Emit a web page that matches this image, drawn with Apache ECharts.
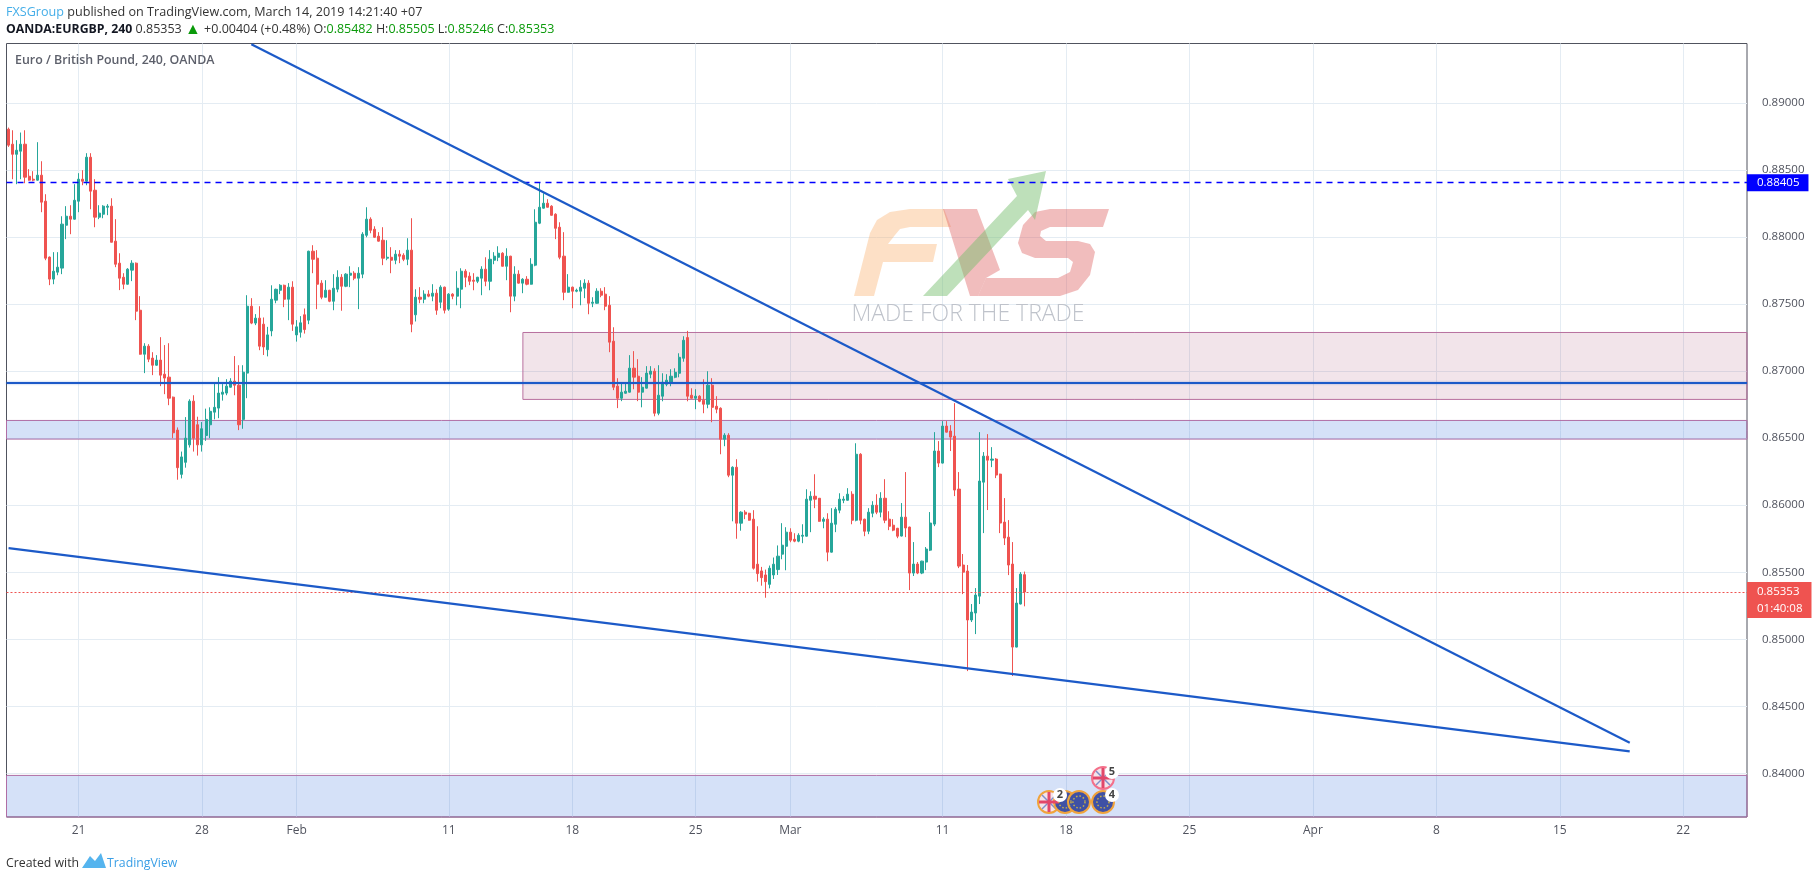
<!DOCTYPE html>
<html><head><meta charset="utf-8">
<style>html,body{margin:0;padding:0;background:#fff}#c{width:1812px;height:881px}</style>
<script src="https://cdn.jsdelivr.net/npm/echarts@6/dist/echarts.min.js"></script>
</head><body><div id="c"></div>
<script>
const opens=[.88804,.88692,.88617,.88640,.88692,.88453,.88431,.88424,.88461,.88267,
.87850,.87686,.87738,.87768,.88088,.88155,.88133,.88267,.88431,.88416,
.88595,.88349,.88148,.88170,.88222,.88230,.87969,.87805,.87700,.87648,
.87753,.87805,.87454,.87126,.87186,.87097,.87044,.87082,.86977,.86955,
.86806,.86560,.86230,.86320,.86450,.86776,.86600,.86450,.86520,.86600,
.86694,.86724,.86828,.86836,.86880,.86925,.86895,.86640,.86985,.87484,
.87358,.87395,.87350,.87160,.87300,.87529,.87603,.87640,.87536,.87626,
.87270,.87290,.87420,.87380,.87894,.87842,.87656,.87551,.87603,.87521,
.87611,.87700,.87633,.87715,.87730,.87693,.87723,.88013,.88133,.88058,
.88006,.87976,.87842,.87849,.87827,.87872,.87864,.87834,.87902,.87420,
.87551,.87536,.87574,.87559,.87581,.87514,.87626,.87462,.87574,.87559,
.87611,.87745,.87708,.87678,.87670,.87693,.87760,.87670,.87827,.87849,
.87879,.87782,.87857,.87559,.87723,.87656,.87685,.87648,.87790,.88103,
.88215,.88252,.88230,.88170,.88073,.87857,.87588,.87626,.87596,.87596,
.87618,.87656,.87506,.87506,.87596,.87574,.87491,.87223,.86888,.86798,
.86835,.86843,.87022,.86962,.86843,.86873,.86977,.86999,.86686,.86813,
.86902,.86917,.86954,.86984,.87096,.87250,.86820,.86798,.86813,.86783,
.86753,.86895,.86738,.86723,.86492,.86522,.86224,.86283,.85866,.85948,
.85940,.85896,.85560,.85510,.85480,.85410,.85480,.85520,.85635,.85694,
.85799,.85746,.85732,.85769,.85769,.86037,.86067,.86052,.85880,.85896,
.85650,.85858,.85963,.86037,.86037,.86082,.85888,.86380,.85896,.85806,
.85940,.86000,.85948,.86052,.85896,.85851,.85828,.85770,.85911,.85837,
.85494,.85561,.85494,.85576,.85665,.85859,.86404,.86314,.86590,.86553,
.86515,.86120,.85554,.85509,.85144,.85196,.85322,.86172,.86366,.86336,
.86344,.86232,.85874,.85762,.85561,.84942,.85263,.85482];
const closes=[.88685,.88617,.88647,.88692,.88446,.88424,.88424,.88461,.88260,.87842,
.87686,.87745,.87775,.88096,.88155,.88133,.88274,.88431,.88416,.88595,
.88342,.88148,.88178,.88230,.88230,.87961,.87797,.87693,.87648,.87760,
.87805,.87447,.87126,.87186,.87089,.87044,.87082,.86970,.86948,.86798,
.86540,.86280,.86360,.86500,.86776,.86500,.86450,.86570,.86640,.86700,
.86730,.86836,.86843,.86888,.86925,.86895,.86600,.86992,.87484,.87358,
.87395,.87186,.87180,.87270,.87536,.87610,.87640,.87536,.87626,.87350,
.87330,.87360,.87310,.87894,.87834,.87648,.87551,.87603,.87521,.87618,
.87700,.87633,.87723,.87730,.87693,.87730,.88021,.88133,.88050,.87998,
.87969,.87842,.87849,.87827,.87872,.87857,.87834,.87902,.87350,.87551,
.87536,.87574,.87559,.87581,.87454,.87626,.87454,.87574,.87559,.87618,
.87745,.87700,.87670,.87670,.87700,.87760,.87670,.87834,.87857,.87879,
.87782,.87857,.87559,.87723,.87656,.87685,.87648,.87797,.88110,.88222,
.88252,.88222,.88162,.88065,.87849,.87588,.87626,.87596,.87603,.87626,
.87656,.87506,.87514,.87596,.87566,.87484,.87216,.86880,.86798,.86843,
.86850,.87022,.86955,.86843,.86880,.86985,.87000,.86686,.86820,.86917,
.86932,.86962,.86991,.87103,.87230,.86813,.86798,.86813,.86775,.86753,
.86895,.86730,.86716,.86492,.86522,.86224,.86283,.85866,.85948,.85933,
.85888,.85530,.85490,.85460,.85430,.85530,.85560,.85620,.85702,.85799,
.85739,.85732,.85776,.85776,.86045,.86067,.86045,.85880,.85896,.85650,
.85866,.85970,.86045,.86045,.86082,.85888,.86380,.85888,.85806,.85948,
.86000,.85948,.86052,.85888,.85843,.85814,.85769,.85911,.85830,.85494,
.85561,.85494,.85583,.85673,.85867,.86404,.86314,.86590,.86545,.86508,
.86113,.85546,.85501,.85144,.85203,.85330,.86180,.86366,.86336,.86344,
.86225,.85867,.85755,.85554,.84942,.85270,.85486,.85353];
const lows=[.88672,.88431,.88394,.88431,.88401,.88420,.88416,.88420,.88185,.87827,
.87641,.87648,.87715,.87723,.87984,.88021,.88130,.88185,.88386,.88386,
.88207,.88073,.88133,.88140,.88163,.87960,.87775,.87604,.87611,.87645,
.87671,.87380,.87123,.86985,.87067,.86970,.87040,.86888,.86828,.86746,
.86500,.86190,.86200,.86280,.86430,.86400,.86370,.86400,.86480,.86500,
.86640,.86649,.86780,.86820,.86877,.86820,.86560,.86570,.86798,.87350,
.87343,.87156,.87120,.87110,.87260,.87506,.87574,.87477,.87380,.87300,
.87220,.87250,.87280,.87350,.87730,.87462,.87536,.87550,.87514,.87454,
.87588,.87450,.87626,.87626,.87678,.87462,.87693,.87998,.88028,.87995,
.87966,.87790,.87827,.87730,.87797,.87805,.87820,.87790,.87290,.87370,
.87506,.87506,.87551,.87521,.87420,.87469,.87430,.87450,.87536,.87491,
.87469,.87626,.87641,.87603,.87656,.87566,.87633,.87603,.87797,.87820,
.87780,.87678,.87439,.87521,.87653,.87581,.87640,.87645,.87782,.88096,
.88212,.88220,.88160,.87984,.87834,.87529,.87585,.87469,.87588,.87491,
.87544,.87424,.87477,.87503,.87551,.87454,.87141,.86858,.86724,.86776,
.86832,.86840,.86865,.86776,.86730,.86870,.86947,.86663,.86671,.86775,
.86887,.86887,.86947,.86954,.87070,.86775,.86795,.86716,.86768,.86686,
.86723,.86619,.86686,.86380,.86440,.86209,.85880,.85750,.85810,.85896,
.85885,.85520,.85430,.85400,.85310,.85380,.85450,.85480,.85597,.85515,
.85724,.85724,.85724,.85717,.85766,.85799,.85978,.85877,.85828,.85582,
.85647,.85799,.85940,.86015,.86034,.85858,.85880,.85858,.85769,.85784,
.85910,.85933,.85910,.85866,.85814,.85806,.85754,.85767,.85762,.85367,
.85472,.85486,.85486,.85516,.85658,.85844,.86284,.86311,.86542,.86404,
.86068,.85531,.85337,.84763,.85129,.85039,.85263,.85792,.85964,.86284,
.86202,.85792,.85703,.85479,.84726,.84940,.85260,.85246];
const highs=[.88816,.88796,.88722,.88779,.88796,.88506,.88491,.88707,.88565,.88319,
.87855,.87887,.87887,.88155,.88230,.88237,.88394,.88476,.88498,.88625,
.88625,.88431,.88237,.88237,.88245,.88289,.88133,.87879,.87730,.87768,
.87827,.87810,.87559,.87208,.87201,.87141,.87119,.87253,.87194,.87208,
.86810,.86580,.86400,.86657,.86790,.86820,.86660,.86620,.86720,.86730,
.86910,.86955,.86903,.86940,.86947,.87112,.87044,.87044,.87566,.87544,
.87425,.87484,.87400,.87330,.87640,.87615,.87648,.87645,.87656,.87670,
.87380,.87410,.87467,.87898,.87939,.87902,.87678,.87678,.87606,.87723,
.87752,.87723,.87730,.87782,.87745,.87775,.88036,.88222,.88147,.88080,
.88036,.88073,.87976,.87924,.87902,.87902,.87879,.87991,.88140,.87610,
.87626,.87603,.87603,.87648,.87610,.87640,.87630,.87581,.87581,.87745,
.87767,.87760,.87737,.87730,.87703,.87782,.87849,.87902,.87887,.87931,
.87887,.87916,.87860,.87782,.87752,.87693,.87708,.87842,.88207,.88408,
.88326,.88282,.88237,.88177,.88110,.88036,.87723,.87630,.87615,.87678,
.87685,.87678,.87551,.87618,.87618,.87626,.87559,.87327,.86947,.86910,
.86910,.87119,.87149,.87089,.86955,.87037,.87037,.87021,.87044,.86984,
.86977,.87014,.87021,.87133,.87260,.87300,.86872,.86865,.86820,.86939,
.86999,.86947,.86813,.86730,.86537,.86537,.86290,.86343,.85955,.85963,
.85943,.85963,.85843,.85540,.85520,.85550,.85610,.85700,.85866,.85836,
.85828,.85791,.85791,.85858,.86119,.86104,.86231,.86050,.85910,.85940,
.85978,.85985,.86089,.86067,.86127,.86104,.86462,.86388,.85899,.85978,
.86030,.86082,.86097,.86194,.85955,.85896,.85831,.86016,.86247,.85840,
.85725,.85576,.85586,.85688,.85949,.86545,.86478,.86627,.86627,.86597,
.86761,.86247,.85636,.85554,.85263,.85382,.86545,.86396,.86530,.86433,
.86351,.86235,.86053,.85889,.85725,.85382,.85501,.85505];
const xTickIndex=[17,47,70,107,137,167,190,227,257,287,317,347,377,407];
const xTickLabels=['21','28','Feb','11','18','25','Mar','11','18','25','Apr','8','15','22'];
const yTicks=[.84,.845,.85,.855,.86,.865,.87,.875,.88,.885,.89];
const categoryCount=423;
const categories=[]; for(let i=0;i<categoryCount;i++) categories.push(String(i));
const trendUpper=[[59,.89438],[394,.84228]];
const trendLower=[[0,.85680],[394,.84165]];
const resistanceLevel=.86915, alertLevel=.88405, lastPrice=.85353;
const pinkZone=[125,.87288,.86789];
const blueZone=[.86632,.86493];
const lowerZone=[.83985];
const yMin=.83675,yMax=.89443;

const candles=opens.map((o,i)=>[o,closes[i],lows[i],highs[i]]);
const font='"Open Sans",sans-serif';
const chart=echarts.init(document.getElementById('c'),null,{renderer:'canvas',width:1812,height:881});

const G=[];
const poly=(points,fill)=>G.push({type:'polygon',shape:{points},style:{fill},silent:true,z:1});
const txt=(x,y,text,style)=>G.push({type:'text',x,y,silent:true,z:10,style:Object.assign({text,font:'13px '+font,fill:'#131722',textVerticalAlign:'middle'},style||{})});
// FXS watermark
poly([[854,296],[870,233],[877,220],[890,212],[910,209],[944,209],[951,227],[910,227],[900,229],[895,235],[888,244],[937,244],[933,262],[883,262],[874,296]],'rgba(250,170,100,.37)');
poly([[943,209],[977,209],[1000,270],[986,278],[978,296],[970,296]],'rgba(220,90,90,.40)');
poly([[978,296],[986,278],[1058,278],[1070,272],[1073,262],[1068,258],[1035,258],[1022,253],[1018,243],[1023,225],[1035,212],[1050,209],[1109,209],[1103,227],[1050,227],[1041,231],[1040,236],[1046,241],[1078,241],[1090,244],[1095,252],[1090,275],[1078,290],[1060,296]],'rgba(220,90,90,.40)');
poly([[923,296],[1017,196],[1008,179],[1046,171],[1035,220],[1028,210],[947,296]],'rgba(120,190,110,.48)');
txt(968,314,'MADE FOR THE TRADE',{font:'300 23px '+font,fill:'#bfc3cb',textAlign:'center'});
// event flags
const flag=(x,y,ring,uk)=>{
 G.push({type:'circle',shape:{cx:x,cy:y,r:11},style:{fill:uk?'#f3e4ea':'#3f51a5',stroke:ring,lineWidth:2},z:8,silent:true});
 if(uk){
  G.push({type:'line',shape:{x1:x-10,y1:y,x2:x+10,y2:y},style:{stroke:'#e2476a',lineWidth:3},z:9,silent:true});
  G.push({type:'line',shape:{x1:x,y1:y-10,x2:x,y2:y+10},style:{stroke:'#e2476a',lineWidth:3},z:9,silent:true});
  G.push({type:'line',shape:{x1:x-7,y1:y-7,x2:x+7,y2:y+7},style:{stroke:'#7f8fc9',lineWidth:1.5},z:8,silent:true});
  G.push({type:'line',shape:{x1:x-7,y1:y+7,x2:x+7,y2:y-7},style:{stroke:'#7f8fc9',lineWidth:1.5},z:8,silent:true});
 } else {
  G.push({type:'circle',shape:{cx:x,cy:y,r:6},style:{fill:'none',stroke:'#c9b04a',lineWidth:1.5,lineDash:[1.5,2]},z:9,silent:true});
 }
};
const num=(x,y,t)=>{G.push({type:'circle',shape:{cx:x,cy:y,r:7},style:{fill:'#fff'},z:11,silent:true});
 txt(x,y,t,{font:'bold 11px '+font,fill:'#444',textAlign:'center'});G[G.length-1].z=12;};
flag(1049,802,'#f0a33c',true);flag(1065,802,'#f0a33c',false);flag(1079,802,'#f0a33c',false);flag(1103,802,'#f0a33c',false);flag(1103,778,'#f4708a',true);
num(1060,795,'2');num(1112,772,'5');num(1112,795,'4');
// header
G.push({type:'text',x:6,y:12,z:10,silent:true,style:{textVerticalAlign:'middle',font:'12.6px '+font,
 text:'{a|FXSGroup} {b|published on TradingView.com, March 14, 2019 14:21:40 +07}',
 rich:{a:{fill:'#45aee8',font:'12.6px '+font},b:{fill:'#333',font:'12.6px '+font}}}});
G.push({type:'text',x:6,y:29,z:10,silent:true,style:{textVerticalAlign:'middle',font:'12.5px '+font,
 text:'{k|OANDA:EURGBP, 240} {b|0.85353} {g|▲} {b|+0.00404 (+0.48%)} {b|O:}{v|0.85482} {b|H:}{v|0.85505} {b|L:}{v|0.85246} {b|C:}{v|0.85353}',
 rich:{k:{fill:'#131722',font:'bold 12.3px '+font},b:{fill:'#333',font:'12.5px '+font},g:{fill:'#0a9a0a',font:'16px '+font},v:{fill:'#0a9a0a',font:'12.5px '+font}}}});
txt(15,60,'Euro / British Pound, 240, OANDA',{font:'600 12.4px '+font,fill:'#5d606b'});
// footer
txt(6,863,'Created with',{font:'12.3px '+font,fill:'#333'});
poly([[82,868],[90,856],[95,861],[101,853],[106,868]],'#55b4ee');
G[G.length-1].z=10;
txt(107,863,'TradingView',{font:'12.3px '+font,fill:'#3a9fe6'});

chart.setOption({
 animation:false,backgroundColor:'#fff',
 grid:{left:6.5,right:65,top:43.5,bottom:64,show:true,borderColor:'#50535e',borderWidth:1,backgroundColor:'transparent'},
 xAxis:{type:'category',data:categories,boundaryGap:true,
  axisLine:{show:false},axisTick:{show:false},
  axisLabel:{interval:i=>xTickIndex.includes(+i),formatter:(v,i)=>{const p=xTickIndex.indexOf(i);return p<0?'':xTickLabels[p];},color:'#50535e',fontSize:12,fontFamily:font,margin:8,hideOverlap:false},
  splitLine:{show:true,alignWithLabel:true,interval:i=>xTickIndex.includes(+i),lineStyle:{color:'#e4ecf3',width:1}}},
 yAxis:{type:'value',position:'right',min:yMin,max:yMax,scale:true,
  axisLine:{show:false},axisTick:{show:false,customValues:yTicks},
  axisLabel:{customValues:yTicks,formatter:v=>v.toFixed(5),color:'#50535e',fontSize:11.5,fontFamily:font,margin:15,showMinLabel:true,showMaxLabel:true},
  splitLine:{show:true,lineStyle:{color:'#e4ecf3',width:1}}},
 graphic:{elements:G},
 series:[
  {type:'candlestick',name:'EURGBP',data:candles,barWidth:2.6,z:3,silent:true,
   itemStyle:{color:'#26a69a',color0:'#ef5350',borderColor:'#26a69a',borderColor0:'#ef5350',borderWidth:1}},
  {type:'line',name:'zones',data:[],z:5,silent:true,symbol:'none',
   markArea:{silent:true,data:[
    [{xAxis:pinkZone[0],yAxis:pinkZone[1],itemStyle:{color:'rgba(155,50,100,.135)',borderColor:'#b8709f',borderWidth:1}},{xAxis:Infinity,yAxis:pinkZone[2]}],
    [{xAxis:-Infinity,yAxis:blueZone[0],itemStyle:{color:'rgba(45,105,220,.2)',borderColor:'#b06ea5',borderWidth:1}},{xAxis:Infinity,yAxis:blueZone[1]}],
    [{xAxis:-Infinity,yAxis:lowerZone[0],itemStyle:{color:'rgba(45,105,220,.2)',borderColor:'#b06ea5',borderWidth:1}},{xAxis:Infinity,yAxis:yMin}]
   ]},
   markLine:{silent:true,symbol:'none',animation:false,precision:5,data:[
    {yAxis:resistanceLevel,lineStyle:{color:'#1c5ac8',width:2,type:'solid',shadowColor:'rgba(28,90,200,.45)',shadowBlur:2},label:{show:false}},
    {yAxis:alertLevel,lineStyle:{color:'#0000ff',width:1.3,type:[6,5]},
     label:{show:true,position:'end',distance:0,formatter:alertLevel.toFixed(5),color:'#fff',backgroundColor:'#0000ff',padding:[3,9,2,10],fontSize:11.5,fontFamily:font}},
    {yAxis:lastPrice,lineStyle:{color:'#ef5350',width:1,type:[2,2]},
     label:{show:true,position:'end',distance:0,formatter:lastPrice.toFixed(5)+'\n01:40:08',color:'#fff',backgroundColor:'#ef5350',lineHeight:17,padding:[1,9,1,10],fontSize:11.5,fontFamily:font,offset:[0,8]}}
   ]}},
  {type:'line',name:'upper trend',data:trendUpper,z:6,silent:true,symbol:'none',lineStyle:{color:'#1c5ac8',width:2.2}},
  {type:'line',name:'lower trend',data:trendLower,z:6,silent:true,symbol:'none',lineStyle:{color:'#1c5ac8',width:2.2}}
 ]
});
</script></body></html>
